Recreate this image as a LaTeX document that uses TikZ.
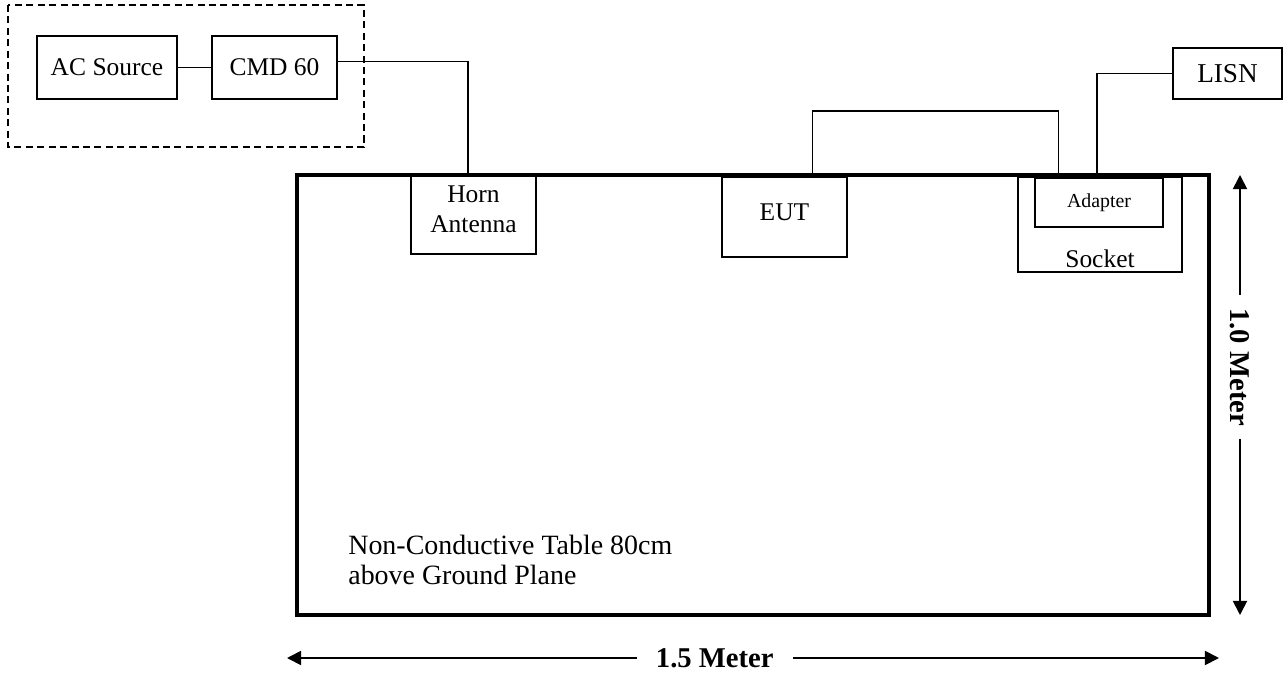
\documentclass[tikz,border=0pt]{standalone}
\usepackage{fontspec}
\setmainfont{Liberation Serif}
\usetikzlibrary{arrows.meta}

\tikzset{
  unit/.style={draw, line width=1pt, inner sep=0pt, align=center, font=\fontsize{14.5}{17}\selectfont},
  wire/.style={line width=1pt},
  dim/.style={line width=1pt, {Triangle[length=8pt,width=8pt]}-{Triangle[length=8pt,width=8pt]}},
  dimlabel/.style={fill=white, inner ysep=0pt, font=\bfseries\fontsize{16.3}{19}\selectfont}
}

\begin{document}
\begin{tikzpicture}[x=0.02cm, y=-0.02cm]
    \useasboundingbox (0,0) rectangle (1285,676);

    % Table
    \node[draw, line width=2.3pt, inner sep=0pt, minimum width=18.24cm, minimum height=8.8cm] (table) at (753,395) {};
    \node[anchor=west, align=left, inner sep=0pt, font=\fontsize{15.9}{17}\selectfont] (tabletext) at (348,560) {Non-Conductive Table 80cm\\above Ground Plane};

    % Signal source group
    \draw[line width=1pt, dash pattern=on 4pt off 2.5pt] (8,5) rectangle (364,147);
    \node[unit, minimum width=2.8cm, minimum height=1.26cm] (acsrc) at (107,67.5) {AC Source};
    \node[unit, minimum width=2.5cm, minimum height=1.26cm] (cmd) at (274.5,67.5) {CMD 60};

    % Boxes on the table
    \node[unit, minimum width=2.5cm, minimum height=1.58cm] (horn) at (473.5,214.5) {};
    \node[font=\fontsize{14.5}{17}\selectfont, align=center, inner sep=0pt] (hornlbl) at (473.5,209) {Horn\\Antenna};
    \node[unit, minimum width=2.5cm, minimum height=1.6cm] (eut) at (784.5,217) {};
    \node[font=\fontsize{14.5}{17}\selectfont, inner sep=0pt] (eutlbl) at (784.5,212) {EUT};
    \node[unit, minimum width=3.28cm, minimum height=1.9cm] (socket) at (1100,224.5) {};
    \node[unit, minimum width=2.56cm, minimum height=0.98cm, font=\fontsize{11.3}{13}\selectfont] (adapter) at (1099,202.5) {Adapter};
    \node[font=\fontsize{14.5}{17}\selectfont, inner sep=0pt] (socketlbl) at (1100,259) {Socket};
    \node[unit, minimum width=2.18cm, minimum height=1.02cm, font=\fontsize{15.5}{18}\selectfont] (lisn) at (1227.5,73.5) {LISN};

    % Cables
    \draw[wire] (acsrc.east) -- (cmd.west);
    \draw[wire] ([yshift=3.4pt]cmd.east) -| ([xshift=-3pt]horn.north);
    \draw[wire] ([xshift=16pt]eut.north) -- ++(0,-65) -| ([xshift=-23pt]adapter.north);
    \draw[wire] (lisn.west) -| ([xshift=-1pt]adapter.north);

    % Dimensions
    \coordinate (vtop) at (1240,175);
    \coordinate (vbot) at (1240,615);
    \coordinate (hleft) at (287,658);
    \coordinate (hright) at (1219,658);
    \draw[dim] (vtop) -- (vbot) node[dimlabel, pos=0.437, rotate=-90, inner xsep=7.6pt] (vlabel) {1.0 Meter};
    \draw[dim] (hleft) -- (hright) node[dimlabel, pos=0.459, inner xsep=10.8pt] (hlabel) {1.5 Meter};
\end{tikzpicture}
\end{document}
